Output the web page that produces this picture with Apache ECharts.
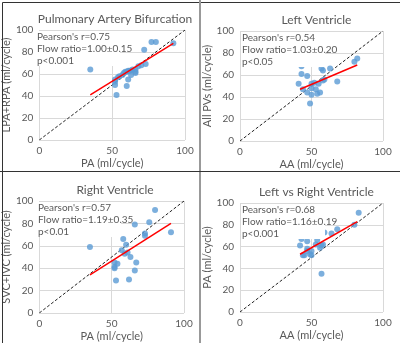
<!DOCTYPE html>
<html>
<head>
<meta charset="utf-8">
<script src="https://cdn.jsdelivr.net/npm/echarts@6/dist/echarts.min.js"></script>
<style>
  html, body { margin: 0; padding: 0; background: #fff; }
  #chart { width: 400px; height: 343px; }
</style>
</head>
<body>
<div id="chart"></div>
<script>
// values, [x, y] in ml/cycle
const pulmonaryPts = [
  [35, 64], [52, 55], [52, 53], [52, 50], [53, 41], [54, 57], [55, 58], [57, 59],
  [58, 61], [59, 62], [60, 62], [61, 63], [62, 63], [63, 63], [64, 64], [66, 64],
  [66, 62], [66, 61], [63, 59], [61, 55], [60, 49], [68, 67], [70, 68], [73, 69],
  [72, 82], [77, 89], [80, 89], [92, 88]
]
const leftPts = [
  [41, 52], [43, 68], [43, 61], [44, 47], [47, 59], [47, 44], [49, 34], [50, 42],
  [50, 48], [50, 52], [52, 53], [53, 47], [54, 43], [55, 52], [56, 44], [57, 66],
  [58, 64], [59, 56], [58, 55], [63, 66], [68, 54], [80, 72], [82, 75]
]
const rightPts = [
  [35, 59], [52, 45], [52, 41], [52, 40], [53, 29], [54, 44], [57, 56], [58, 66],
  [59, 53], [60, 61], [61, 54], [62, 30], [63, 50], [66, 79], [66, 38], [67, 45],
  [73, 71], [73, 69], [76, 81], [80, 92], [91, 72]
]
const lvrvPts = [
  [42, 61], [43, 67], [44, 52], [45, 52], [47, 65], [47, 58], [47, 56], [49, 53],
  [50, 52], [50, 56], [53, 62], [54, 66], [56, 59], [57, 61], [58, 62], [59, 73],
  [57, 35], [64, 72], [68, 76], [80, 80], [83, 91]
]
// regression lines: [slope, intercept, xFrom, xTo]
const pulmonaryFit = [0.82, 12.3, 35, 92]
const leftFit = [0.55, 24, 42, 82]
const rightFit = [0.82, 5.3, 35, 91]
const lvrvFit = [0.75, 21.5, 42, 82]

const titles = ['Pulmonary Artery Bifurcation', 'Left Ventricle', 'Right Ventricle', 'Left vs Right Ventricle']
const xNames = ['PA (ml/cycle)', 'AA (ml/cycle)', 'PA (ml/cycle)', 'AA (ml/cycle)']
const yNames = ['LPA+RPA (ml/cycle)', 'All PVs (ml/cycle)', 'SVC+IVC (ml/cycle)', 'PA (ml/cycle)']
const stats = [
  ["Pearson's r=0.75", 'Flow ratio=1.00\u00b10.15', 'p<0.001'],
  ["Pearson's r=0.54", 'Flow ratio=1.03\u00b10.20', 'p<0.05'],
  ["Pearson's r=0.57", 'Flow ratio=1.19\u00b10.35', 'p<0.01'],
  ["Pearson's r=0.68", 'Flow ratio=1.16\u00b10.19', 'p<0.001']
]
const allPts = [pulmonaryPts, leftPts, rightPts, lvrvPts]
const allFits = [pulmonaryFit, leftFit, rightFit, lvrvFit]

// plot boxes in px: left, top, width, height
const boxes = [
  [35, 30, 150, 110],
  [240, 31, 143, 110],
  [36, 201, 148, 113],
  [240, 203, 143, 109]
]

const font = 'Lato, "Open Sans", sans-serif'
const grey = '#595959'

const chart = echarts.init(document.getElementById('chart'), null, { renderer: 'canvas' })

const grid = []
const xAxis = []
const yAxis = []
const title = []
const series = []
const graphic = []

boxes.forEach((b, i) => {
  grid.push({ left: b[0], top: b[1], width: b[2], height: b[3] })
  xAxis.push({
    gridIndex: i, type: 'value', min: 0, max: 100, interval: 50,
    name: xNames[i], nameLocation: 'middle', nameGap: 18,
    nameTextStyle: { color: grey, fontSize: 11, fontFamily: font },
    axisLine: { show: false }, axisTick: { show: false },
    axisLabel: { color: grey, fontSize: 10, fontFamily: font, margin: 6 },
    splitLine: { show: true, lineStyle: { color: '#d9d9d9', width: 1 } }
  })
  yAxis.push({
    gridIndex: i, type: 'value', min: 0, max: 100, interval: 20,
    name: yNames[i], nameLocation: 'middle', nameGap: 17,
    nameTextStyle: { color: grey, fontSize: 11, fontFamily: font },
    axisLine: { show: false }, axisTick: { show: false },
    axisLabel: { color: grey, fontSize: 10, fontFamily: font, margin: 6 },
    splitLine: { show: true, lineStyle: { color: '#d9d9d9', width: 1 } }
  })
  title.push({
    text: titles[i],
    left: b[0] + b[2] / 2, top: b[1] - 22, textAlign: 'center',
    textStyle: { color: grey, fontSize: 12, fontWeight: 'normal', fontFamily: font }
  })
  const f = allFits[i]
  series.push({
    type: 'line', xAxisIndex: i, yAxisIndex: i, symbol: 'none', silent: true, z: 1,
    lineStyle: { color: '#222', width: 1, type: [3, 2] },
    data: [[0, 0], [100, 100]]
  })
  series.push({
    type: 'scatter', xAxisIndex: i, yAxisIndex: i, symbolSize: 6, z: 2,
    itemStyle: { color: '#5b9bd5' },
    data: allPts[i]
  })
  series.push({
    type: 'line', xAxisIndex: i, yAxisIndex: i, symbol: 'none', silent: true, z: 3,
    lineStyle: { color: '#ff0000', width: 1.5 },
    data: [[f[2], f[0] * f[2] + f[1]], [f[3], f[0] * f[3] + f[1]]]
  })
  graphic.push({
    type: 'rect', left: b[0] + 1, top: b[1] + 1, z: 10,
    shape: { width: 84, height: 35 },
    style: { fill: '#fff' }
  })
  graphic.push({
    type: 'text', left: b[0] + 2, top: b[1] + 1, z: 11,
    style: {
      text: stats[i].join('\n'), fill: grey, fontSize: 10, fontFamily: font,
      lineHeight: 12
    }
  })
})

// panel frame and dividers
graphic.push({ type: 'rect', left: 0, top: 0, z: 20, shape: { width: 399, height: 342 }, style: { fill: 'none', stroke: '#333', lineWidth: 1 } })
graphic.push({ type: 'line', z: 20, shape: { x1: 200, y1: 0, x2: 200, y2: 343 }, style: { stroke: '#999', lineWidth: 2 } })
graphic.push({ type: 'line', z: 20, shape: { x1: 0, y1: 171.5, x2: 400, y2: 171.5 }, style: { stroke: '#333', lineWidth: 1 } })

chart.setOption({
  animation: false,
  backgroundColor: '#fff',
  title: title,
  grid: grid,
  xAxis: xAxis,
  yAxis: yAxis,
  series: series,
  graphic: graphic
})
</script>
</body>
</html>
